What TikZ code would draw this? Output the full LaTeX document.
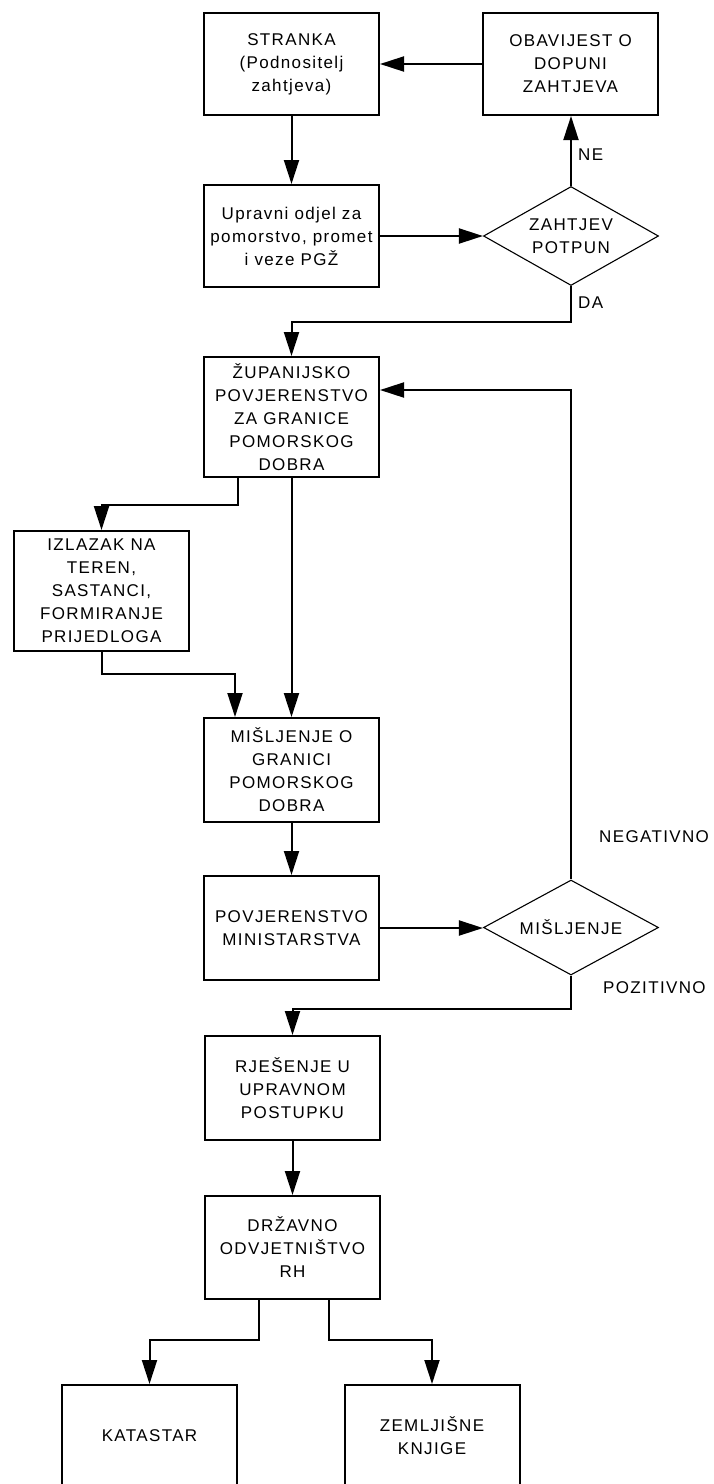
\documentclass[tikz,border=0pt]{standalone}
\usepackage{fontspec}
\setmainfont{Liberation Sans}[LetterSpace=8]
\usetikzlibrary{positioning, calc, arrows.meta, shapes.geometric}

\begin{document}
\begin{tikzpicture}[x=1pt, y=-1pt, font=\fontsize{17pt}{23pt}\selectfont,
  box/.style={draw, line width=2pt, minimum width=175pt, minimum height=102pt, align=center, inner sep=2pt},
  decision/.style={draw, shape=diamond, aspect=1.77, inner sep=0pt, line width=1.1pt, minimum width=175pt, minimum height=99pt, align=center},
  flow/.style={line width=2pt, -{Triangle[length=24pt,width=15pt]}},
  lbl/.style={anchor=west, inner sep=0pt}]
\useasboundingbox (0,0) rectangle (714,1484);

\node[box] (strank) at (291.5,64) {STRANKA\\(Podnositelj\\zahtjeva)};
\node[box] (obav) at (570.5,64) {OBAVIJEST O\\DOPUNI\\ZAHTJEVA};
\node[box] (upr) at (291.5,236) {Upravni odjel za\\pomorstvo, promet\\i veze PGŽ};
\node[decision] (zaht) at (571,236) {ZAHTJEV\\POTPUN};
\node[box, minimum height=120pt] (zup) at (291.5,417) {ŽUPANIJSKO\\POVJERENSTVO\\ZA GRANICE\\POMORSKOG\\DOBRA};
\node[box, minimum height=120pt] (izl) at (101.5,591) {IZLAZAK NA\\TEREN,\\SASTANCI,\\FORMIRANJE\\PRIJEDLOGA};
\node[box, minimum height=104pt] (mis) at (291.5,770) {MIŠLJENJE O\\GRANICI\\POMORSKOG\\DOBRA};
\node[box, minimum height=104pt] (povj) at (291.5,928) {POVJERENSTVO\\MINISTARSTVA};
\node[decision, minimum height=95pt] (misd) at (571,927.5) {MIŠLJENJE};
\node[box, minimum height=104pt] (rje) at (292.5,1088) {RJEŠENJE U\\UPRAVNOM\\POSTUPKU};
\node[box, minimum height=103pt] (drz) at (292.5,1247.5) {DRŽAVNO\\ODVJETNIŠTVO\\RH};
\node[box] (kat) at (149.5,1436) {KATASTAR};
\node[box] (zem) at (432,1436) {ZEMLJIŠNE\\KNJIGE};

% labels
\node[lbl] (ne) at (578,155) {NE};
\node[lbl] (da) at (578,303) {DA};
\node[lbl] (neg) at (599,837) {NEGATIVNO};
\node[lbl] (poz) at (603,988) {POZITIVNO};

\draw[flow] (obav.west) -- (strank.east);
\draw[flow] (strank.south) -- (upr.north);
\draw[flow] (upr.east) -- (zaht.west);
\draw[flow] (zaht.north) -- (zaht.north |- obav.south);
\draw[flow] (zaht.south) -- ++(0,36) -| (zup.north);
\draw[flow] (misd.north) |- ([yshift=27pt]zup.east);
\draw[flow] ([xshift=-53.5pt]zup.south) -- ++(0,27) -| (izl.north);
\draw[flow] (zup.south) -- (mis.north);
\draw[flow] (izl.south) -- ++(0,22) -| ([xshift=-56.5pt]mis.north);
\draw[flow] (mis.south) -- (povj.north);
\draw[flow] (povj.east) -- (povj.east -| misd.west);
\draw[flow] (misd.south) -- ++(0,33) -| (rje.north);
\draw[flow] (rje.south) -- (drz.north);
\draw[flow] ([xshift=-33.5pt]drz.south) -- ++(0,40) -| (kat.north);
\draw[flow] ([xshift=36.5pt]drz.south) -- ++(0,40) -| (zem.north);
\end{tikzpicture}
\end{document}
